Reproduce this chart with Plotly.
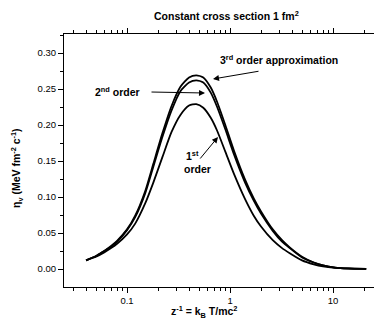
import plotly.graph_objects as go

# ---- data ----
x_vals = [0.04, 0.05, 0.06, 0.07, 0.08, 0.1, 0.12, 0.15, 0.18, 0.22, 0.27, 0.33, 0.4,
          0.47, 0.55, 0.65, 0.75, 0.9, 1.1, 1.4, 1.7, 2.0, 2.6, 3.2, 3.8, 5, 6.5, 8,
          10.5, 14, 21]
eta_3rd = [0.012, 0.018, 0.025, 0.032, 0.039, 0.055, 0.074, 0.108, 0.146, 0.188, 0.226,
           0.253, 0.266, 0.269, 0.266, 0.252, 0.232, 0.200, 0.163, 0.124, 0.098, 0.080,
           0.055, 0.040, 0.030, 0.017, 0.009, 0.005, 0.002, 0.0008, 0.0002]
eta_2nd = [0.012, 0.018, 0.025, 0.031, 0.038, 0.054, 0.072, 0.105, 0.142, 0.183, 0.220,
           0.247, 0.259, 0.262, 0.259, 0.245, 0.225, 0.194, 0.158, 0.120, 0.095, 0.077,
           0.053, 0.038, 0.029, 0.016, 0.009, 0.005, 0.002, 0.0008, 0.0002]
eta_1st = [0.012, 0.017, 0.023, 0.029, 0.035, 0.048, 0.063, 0.091, 0.120, 0.155, 0.190,
           0.214, 0.227, 0.229, 0.224, 0.210, 0.192, 0.163, 0.131, 0.097, 0.074, 0.059,
           0.040, 0.029, 0.022, 0.012, 0.0065, 0.0035, 0.0015, 0.0006, 0.0002]

x_major = [0.1, 1, 10]
x_major_text = ["0.1", "1", "10"]
x_minor = [0.03, 0.04, 0.05, 0.06, 0.07, 0.08, 0.09,
           0.2, 0.3, 0.4, 0.5, 0.6, 0.7, 0.8, 0.9,
           2, 3, 4, 5, 6, 7, 8, 9, 20]
y_major = [0.00, 0.05, 0.10, 0.15, 0.20, 0.25, 0.30]
y_major_text = ["0.00", "0.05", "0.10", "0.15", "0.20", "0.25", "0.30"]
y_minor = [0.025, 0.075, 0.125, 0.175, 0.225, 0.275, 0.325]

W, H = 374, 322
L, R, T, B = 64, 0, 34, 35
PW, PH = W - L - R, H - T - B
FONT = "Arial, Liberation Sans, sans-serif"


def px(xp):
    return (xp - L) / PW


def py(yp):
    return (H - B - yp) / PH


fig = go.Figure()
for ys in (eta_1st, eta_2nd, eta_3rd):
    fig.add_trace(go.Scatter(x=x_vals, y=ys, mode="lines",
                             line=dict(color="black", width=1.8, shape="spline", smoothing=0.6),
                             showlegend=False, hoverinfo="skip"))

fig.update_layout(
    width=W, height=H,
    margin=dict(l=L, r=R, t=T, b=B, pad=0),
    paper_bgcolor="white", plot_bgcolor="white",
    font=dict(family=FONT, size=9.5, color="black"),
    xaxis=dict(type="log", range=[-1.612, 1.398],
               tickmode="array", tickvals=x_major, ticktext=x_major_text,
               ticks="outside", ticklen=5, tickwidth=1, tickcolor="black",
               showline=True, linecolor="black", linewidth=1, mirror="allticks",
               showgrid=False, zeroline=False,
               minor=dict(tickmode="array", tickvals=x_minor, ticks="outside",
                          ticklen=3, tickcolor="black", showgrid=False),
               tickfont=dict(size=9.5)),
    yaxis=dict(range=[-0.025, 0.3264],
               tickmode="array", tickvals=y_major, ticktext=y_major_text,
               ticks="outside", ticklen=5, tickwidth=1, tickcolor="black",
               showline=True, linecolor="black", linewidth=1, mirror=False,
               showgrid=False, zeroline=False,
               minor=dict(tickmode="array", tickvals=y_minor, ticks="outside",
                          ticklen=3, tickcolor="black", showgrid=False),
               tickfont=dict(size=9.5)),
)

bold = dict(family=FONT, size=10.5, color="black")
texts = [
    ("<b>Constant cross section 1 fm<sup>2</sup></b>", 226, 16, 0),
    ("<b>3<sup>rd</sup> order approximation</b>", 279, 59, 0),
    ("<b>2<sup>nd</sup> order</b>", 117, 91, 0),
    ("<b>1<sup>st</sup></b>", 192, 155, 0),
    ("<b>order</b>", 197, 169, 0),
    ("<b>z<sup>-1</sup> = k<sub>B</sub> T/mc<sup>2</sup></b>", 204, 312, 0),
    ("<b>η<sub>v</sub> (MeV fm<sup>-2</sup> c<sup>-1</sup>)</b>", 17, 168, -90),
]
for t, xp, yp, ang in texts:
    fig.add_annotation(text=t, x=px(xp), y=py(yp), xref="paper", yref="paper",
                       showarrow=False, font=bold, textangle=ang,
                       xanchor="center", yanchor="middle")

arrows = [((260, 71), (213, 79)), ((150, 92), (205, 93)), ((199, 160), (218, 137))]
for (tx, ty), (hx, hy) in arrows:
    fig.add_annotation(text="", x=px(hx), y=py(hy), xref="paper", yref="paper",
                       ax=tx - hx, ay=ty - hy, axref="pixel", ayref="pixel",
                       showarrow=True, arrowhead=2, arrowsize=1.2, arrowwidth=1,
                       arrowcolor="black")

fig.write_html("out.html")
